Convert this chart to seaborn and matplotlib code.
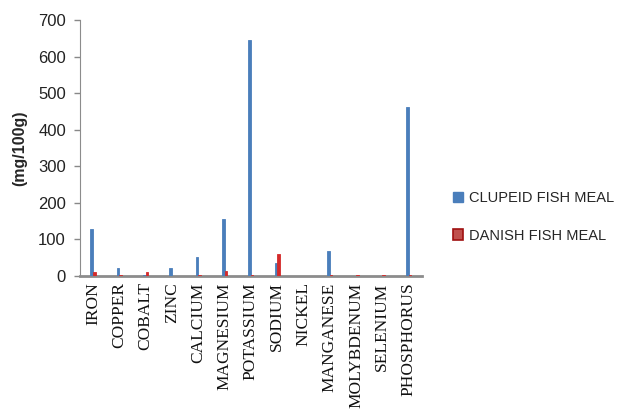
import pandas as pd
import matplotlib
matplotlib.use("Agg")
import matplotlib.pyplot as plt
import seaborn as sns
from matplotlib.patches import Patch

# Mineral content of two fish meals (mg/100g)
minerals = ['IRON', 'COPPER', 'COBALT', 'ZINC', 'CALCIUM', 'MAGNESIUM', 'POTASSIUM',
            'SODIUM', 'NICKEL', 'MANGANESE', 'MOLYBDENUM', 'SELENIUM', 'PHOSPHORUS']
clupeid = [130, 22, 3, 22, 52, 157, 645, 35, 1, 68, 0, 0, 462]
danish = [12, 4, 12, 0, 4, 14, 4, 60, 0, 4, 4, 4, 4]
series_names = ['CLUPEID FISH MEAL', 'DANISH FISH MEAL']

df = pd.DataFrame({
    'mineral': minerals * 2,
    'value': clupeid + danish,
    'meal': [series_names[0]] * len(minerals) + [series_names[1]] * len(minerals),
})

sns.set_style("white")
plt.rcParams['font.family'] = ['Liberation Sans', 'DejaVu Sans']

fig = plt.figure(figsize=(6.24, 4.17), dpi=100)
ax = fig.add_axes([0.128, 0.338, 0.548, 0.614])

palette = {series_names[0]: '#4a7ebb', series_names[1]: '#d42a2a'}
sns.barplot(data=df, x='mineral', y='value', hue='meal', order=minerals,
            hue_order=series_names, palette=palette, width=0.2, dodge=True,
            saturation=1, errorbar=None, ax=ax, legend=False, linewidth=0.6)
for bar in ax.patches:
    bar.set_edgecolor(bar.get_facecolor())
    bar.set_zorder(3)

ax.set_ylim(0, 700)
ax.set_xlim(-0.5, len(minerals) - 0.5)
ax.set_yticks(range(0, 701, 100))
ax.tick_params(axis='y', labelsize=12, labelcolor='#222222', color='#888888',
               length=4, width=1, direction='out', left=True, pad=6)
ax.tick_params(axis='x', bottom=False, pad=1)
ax.set_xticks(range(len(minerals)))
ax.set_xticklabels(minerals, rotation=90, family='Liberation Serif', fontsize=12.5,
                   color='#111111')
ax.set_xlabel('')
ax.set_ylabel('(mg/100g)', fontsize=11.5, fontweight='bold', labelpad=8)

for side in ['top', 'right']:
    ax.spines[side].set_visible(False)
ax.spines['left'].set_color('#8c8c8c')
ax.spines['bottom'].set_color('#8c8c8c')
ax.spines['bottom'].set_linewidth(2)
ax.spines['bottom'].set_zorder(2)
ax.grid(False)

# legend on the right
handles = [Patch(facecolor='#4a7ebb', edgecolor='#4a7ebb'),
           Patch(facecolor='#c0504d', edgecolor='#a01010', linewidth=1.2)]
fig.legend(handles, series_names, loc='center left', bbox_to_anchor=(0.705, 0.48),
           frameon=False, fontsize=10.5, handlelength=0.7, handleheight=0.7,
           handletextpad=0.4, labelspacing=1.6)

plt.savefig('out.png', dpi=100)
